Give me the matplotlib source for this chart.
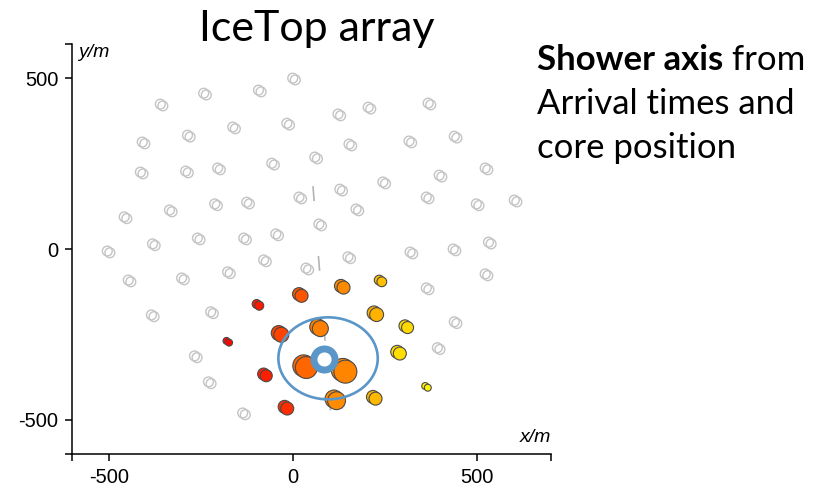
import matplotlib
matplotlib.use("Agg")
from matplotlib import pyplot as plt
from matplotlib.patches import Ellipse
from matplotlib.colors import Normalize
import numpy as np

# IceTop event display: station positions in metres

# stations without a hit (grey)
idle_x = [-1, -361, -243, -94, 122, 204, 367,
          -410, -287, -164, -17, 152, 315, 438,
          -415, -292, -205, -58, 59, 244, 397, 522,
          -459, -336, -213, -126, 16, 127, 171, 362, 498, 601,
          -505, -382, -260, -134, -47, 70, 318, 435, 531,
          -448, -303, -178, -80, 35, 149, 522, 362,
          -385, -224, 438,
          -268, 392,
          -230,
          -137]
idle_y = [500, 424, 456, 465, 395, 415, 427,
          313, 333, 357, 368, 307, 316, 330,
          225, 228, 237, 251, 269, 196, 216, 237,
          94, 114, 132, 137, 152, 175, 117, 152, 132, 143,
          -6, 15, 32, 32, 44, 73, -9, 0, 20,
          -91, -85, -67, -32, -56, -23, -73, -114,
          -193, -184, -213,
          -313, -289,
          -389,
          -480]

# stations with a hit: position, arrival time (ns) and charge (VEM)
hit_x = [-181, -99, -80, -23, -39, 16, 29, 67, 130, 135, 111, 220, 234, 217, 304, 283, 359]
hit_y = [-269, -161, -366, -462, -246, -132, -342, -228, -108, -354, -439, -187, -91, -433, -225, -301, -401]
hit_time = [20, 100, 120, 180, 260, 330, 400, 500, 540, 520, 550, 700, 750, 720, 850, 870, 950]
hit_charge = [3, 5, 9, 10.5, 14, 10.5, 30, 16, 10.5, 33, 20, 12, 6, 10.5, 9, 10.5, 3]

# reconstructed core and projected shower axis
core_x, core_y = 85, -322
axis_x = [54, 108]
axis_y = [184, -561]

TANK_DX, TANK_DY = 7, -5
BLUE = '#5a96c8'

fig = plt.figure(figsize=(8.19, 4.88), dpi=100)
ax = fig.add_axes([0.0883, 0.0697, 0.5841, 0.8401])

ax.plot(axis_x, axis_y, color='#b4b4b4', lw=1.2, dashes=(9, 33), zorder=1)

ix = np.array(idle_x)
iy = np.array(idle_y)
for dx, dy in [(0, 0), (TANK_DX, TANK_DY)]:
    ax.scatter(ix + dx, iy + dy, s=50, facecolors='none', edgecolors='#c4c4c4', linewidths=1.0, zorder=2)

hx = np.array(hit_x)
hy = np.array(hit_y)
sizes = np.array(hit_charge) * 8.3
norm = Normalize(0, 1000)
for dx, dy in [(0, 0), (TANK_DX, TANK_DY)]:
    ax.scatter(hx + dx, hy + dy, s=sizes, c=hit_time, cmap='autumn', norm=norm,
               edgecolors='#4a4a4a', linewidths=0.8, zorder=3)

ax.add_patch(Ellipse((core_x + 10, core_y + 2), 270, 240, fill=False, edgecolor=BLUE, lw=1.9, zorder=4))
ax.scatter([core_x], [core_y], s=230, facecolors='white', edgecolors=BLUE, linewidths=5, zorder=5)

ax.set_xlim(-600, 700)
ax.set_ylim(-600, 600)
ax.set_xticks([-600, -500, 0, 500, 700])
ax.set_xticklabels(['', '-500', '0', '500', ''])
ax.set_yticks([-600, -500, 0, 500, 600])
ax.set_yticklabels(['', '-500', '0', '500', ''])
for side in ['top', 'right']:
    ax.spines[side].set_visible(False)
for side in ['left', 'bottom']:
    ax.spines[side].set_linewidth(1.1)
ax.tick_params(length=5, width=1.1, labelsize=14.5, pad=5)
for lab in ax.get_xticklabels() + ax.get_yticklabels():
    lab.set_family('Liberation Sans')

ax.text(0.012, 1.0, 'y/m', transform=ax.transAxes, fontsize=14, style='italic',
        family='Liberation Sans', ha='left', va='top')
ax.text(1.0, 0.02, 'x/m', transform=ax.transAxes, fontsize=14, style='italic',
        family='Liberation Sans', ha='right', va='bottom')

fig.text(317 / 819, 1 - 41 / 488, 'IceTop array', fontsize=31, family='Lato', ha='center', va='baseline')

t1 = fig.text(537 / 819, 1 - 70 / 488, 'Shower axis', fontsize=25, family='Lato', weight='bold',
              ha='left', va='baseline')
ax.annotate(' from', xy=(1, 0), xycoords=t1, fontsize=25, family='Lato', ha='left', va='bottom')
fig.text(537 / 819, 1 - 114 / 488, 'Arrival times and', fontsize=25, family='Lato', ha='left', va='baseline')
fig.text(537 / 819, 1 - 158 / 488, 'core position', fontsize=25, family='Lato', ha='left', va='baseline')

plt.savefig('out.png', dpi=100)
